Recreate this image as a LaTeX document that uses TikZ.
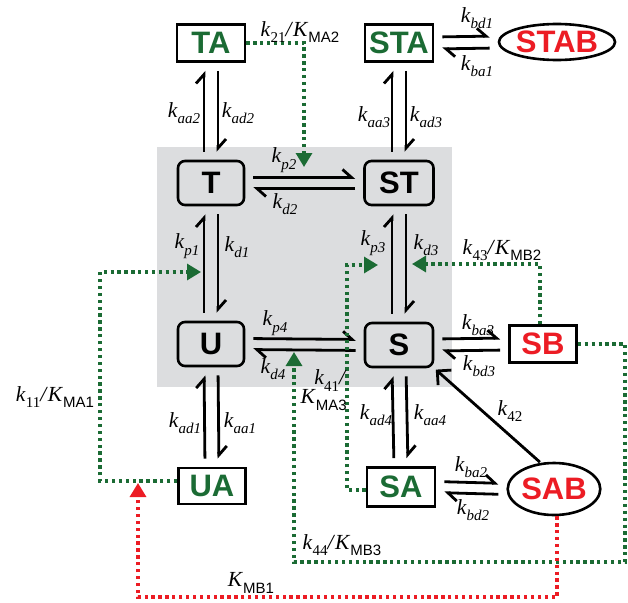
\documentclass[tikz,border=0pt]{standalone}
\usepackage{fontspec}
\setmainfont{Liberation Serif}
\setsansfont{Liberation Sans}
\usetikzlibrary{arrows.meta,shapes.geometric}
\definecolor{dgreen}{RGB}{27,107,52}
\definecolor{dred}{RGB}{236,28,36}
\definecolor{bggray}{RGB}{220,221,223}
\newcommand{\lsub}[1]{\raisebox{-0.3em}{\fontsize{15}{15}\selectfont #1}}
\newcommand{\kk}[1]{\textit{k}\lsub{\textit{#1}}}
\newcommand{\KK}[1]{\textit{K}\lsub{\sffamily #1}}
\begin{document}
\begin{tikzpicture}[x=1pt,y=-1pt,
  bigfont/.style={font=\sffamily\bfseries\fontsize{31}{31}\selectfont},
  state/.style={bigfont, draw, line width=2.6pt, rounded corners=7pt, minimum width=66pt, minimum height=44pt, inner sep=0pt},
  gbox/.style={bigfont, draw, fill=white, line width=2.6pt, minimum width=68pt, minimum height=37pt, inner sep=0pt, text=dgreen},
  rbox/.style={gbox, text=dred},
  rell/.style={bigfont, ellipse, draw, fill=white, line width=2.6pt, inner sep=0pt, text=dred},
  harp/.style={line width=2.8pt, -{Straight Barb[left,length=9pt,width=16pt]}, shorten >=8pt, shorten <=8pt},
  single/.style={line width=2.8pt, -{Straight Barb[length=10pt,width=20pt]}},
  gdot/.style={dgreen, line width=3.2pt, dash pattern=on 3.3pt off 3.6pt, -{Triangle[length=14pt,width=16pt]}},
  rdot/.style={dred, line width=3.2pt, dash pattern=on 3.3pt off 3.6pt, -{Triangle[length=14pt,width=16pt]}},
  lab/.style={font=\fontsize{21.5}{23}\selectfont, inner sep=0pt}
]
\useasboundingbox (0,0) rectangle (628,602);
\fill[bggray] (157,147) rectangle (452,387);

% nodes
\node[state] (T) at (211,183) {T};
\node[state, minimum width=69pt] (ST) at (399,183) {ST};
\node[state] (U) at (211,344) {U};
\node[state, minimum width=68pt] (S) at (399,345) {S};
\node[gbox] (TA) at (211,43) {TA};
\node[gbox] (STA) at (399,43) {STA};
\node[rell, minimum width=99pt, minimum height=36pt] (STAB) at (557,42) {STAB};
\node[rbox, minimum width=67pt] (SB) at (543,344) {SB};
\node[gbox, minimum width=67pt, minimum height=36pt] (UA) at (212,486) {UA};
\node[gbox, minimum height=39pt] (SA) at (401,487) {SA};
\node[rell, minimum width=88pt, minimum height=52pt] (SAB) at (554,489) {SAB};

% coordinates for dotted connectors
\coordinate (tp2) at (304,167);
\coordinate (c2a) at (100,272);
\coordinate (kp1tip) at (201,272);
\coordinate (c3a) at (347,265);
\coordinate (kp3tip) at (378,265);
\coordinate (kd3tip) at (412,264);
\coordinate (c5a) at (625,562);
\coordinate (kd4tip) at (294,352);
\coordinate (c6a) at (138,597);
\coordinate (mb1tip) at (138,483);

% double arrows
\draw[harp] ([yshift=5.5pt]T.east) -- ([yshift=5.5pt]ST.west);
\draw[harp] ([yshift=-5.5pt]ST.west) -- ([yshift=-5.5pt]T.east);
\draw[harp] ([yshift=5.5pt]U.east) -- ([yshift=5.5pt]S.west);
\draw[harp] ([yshift=-5.5pt]S.west) -- ([yshift=-5.5pt]U.east);
\draw[harp] ([yshift=6pt]STA.east) -- ([yshift=6pt]STAB.west);
\draw[harp] ([yshift=-6pt]STAB.west) -- ([yshift=-6pt]STA.east);
\draw[harp] ([yshift=6pt]S.east) -- ([yshift=6pt]SB.west);
\draw[harp] ([yshift=-6pt]SB.west) -- ([yshift=-6pt]S.east);
\draw[harp] ([yshift=5.5pt]SA.east) -- ([yshift=5.5pt]SAB.west);
\draw[harp] ([yshift=-5.5pt]SAB.west) -- ([yshift=-5.5pt]SA.east);

\draw[harp] ([xshift=-7pt]T.north) -- ([xshift=-7pt]TA.south);
\draw[harp] ([xshift=7pt]TA.south) -- ([xshift=7pt]T.north);
\draw[harp] ([xshift=-7pt]U.north) -- ([xshift=-7pt]T.south);
\draw[harp] ([xshift=7pt]T.south) -- ([xshift=7pt]U.north);
\draw[harp] ([xshift=-7pt]UA.north) -- ([xshift=-7pt]U.south);
\draw[harp] ([xshift=7pt]U.south) -- ([xshift=7pt]UA.north);
\draw[harp] ([xshift=-7pt]ST.north) -- ([xshift=-7pt]STA.south);
\draw[harp] ([xshift=7pt]STA.south) -- ([xshift=7pt]ST.north);
\draw[harp] ([xshift=-7pt]S.north) -- ([xshift=-7pt]ST.south);
\draw[harp] ([xshift=7pt]ST.south) -- ([xshift=7pt]S.north);
\draw[harp] ([xshift=-7pt]SA.north) -- ([xshift=-7pt]S.south);
\draw[harp] ([xshift=7pt]S.south) -- ([xshift=7pt]SA.north);

\draw[single, shorten <=1pt, shorten >=2pt] (SAB.117) -- (S.south east);

% dotted connectors
\draw[gdot] (TA.east) -| (tp2);
\draw[gdot] ([yshift=5pt]UA.west) -| (c2a) -- (kp1tip);
\draw[gdot] ([yshift=-3pt]SA.west) -| (c3a) -- (kp3tip);
\draw[gdot] ([xshift=-3pt]SB.north) |- (kd3tip);
\draw[gdot] (SB.east) -| (c5a) -| (kd4tip);
\draw[rdot] ([xshift=3pt]SAB.south) |- (c6a) -- (mb1tip);

% labels
\node[lab] (l21) at (300,32) {\textit{k}\lsub{21}\textit{/}\KK{MA2}};
\node[lab] (laa2) at (184,113) {\kk{aa2}};
\node[lab] (lad2) at (238,113) {\kk{ad2}};
\node[lab] (laa3) at (374,117) {\kk{aa3}};
\node[lab] (lad3) at (426,117) {\kk{ad3}};
\node[lab] (lbd1) at (477,18) {\kk{bd1}};
\node[lab] (lba1) at (477,66) {\kk{ba1}};
\node[lab] (lp2) at (284,160) {\kk{p2}};
\node[lab] (ld2) at (285,204) {\kk{d2}};
\node[lab] (lp1) at (187,246) {\kk{p1}};
\node[lab] (ld1) at (237,247) {\kk{d1}};
\node[lab] (lp3) at (373,243) {\kk{p3}};
\node[lab] (ld3) at (426,245) {\kk{d3}};
\node[lab] (l43) at (502,250) {\textit{k}\lsub{43}\textit{/}\KK{MB2}};
\node[lab] (lp4) at (275,323) {\kk{p4}};
\node[lab] (ld4) at (273,369) {\kk{d4}};
\node[lab, anchor=east, align=right] (l41) at (347,390) {\textit{k}\lsub{41}\textit{/}\\[-4pt]\KK{MA3}};
\node[lab] (lba3) at (478,325) {\kk{ba3}};
\node[lab] (lbd3) at (479,366) {\kk{bd3}};
\node[lab] (l42) at (510,411) {\textit{k}\lsub{42}};
\node[lab] (l11) at (55,397) {\textit{k}\lsub{11}\textit{/}\KK{MA1}};
\node[lab] (lad1) at (185,423) {\kk{ad1}};
\node[lab] (laa1) at (240,423) {\kk{aa1}};
\node[lab] (lad4) at (376,415) {\kk{ad4}};
\node[lab] (laa4) at (430,415) {\kk{aa4}};
\node[lab] (lba2) at (471,467) {\kk{ba2}};
\node[lab] (lbd2) at (473,510) {\kk{bd2}};
\node[lab] (l44) at (342,545) {\textit{k}\lsub{44}\textit{/}\KK{MB3}};
\node[lab] (lmb1) at (251,583) {\KK{MB1}};
\end{tikzpicture}
\end{document}
